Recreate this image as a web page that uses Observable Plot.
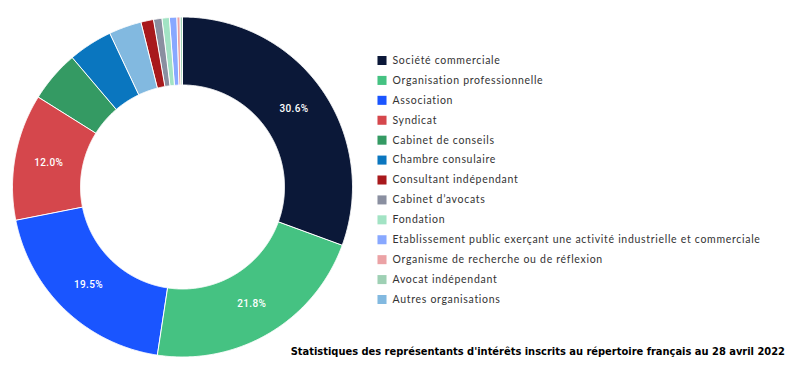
<!DOCTYPE html>
<html>
<head>
<meta charset="utf-8">
<script src="https://cdn.jsdelivr.net/npm/d3@7"></script>
<script src="https://cdn.jsdelivr.net/npm/@observablehq/plot@0.6"></script>
<style>
  body { margin: 0; background: #fff; }
  #wrap { position: relative; width: 800px; height: 378px; overflow: hidden; background: #fff; }
  #donut { position: absolute; left: 0; top: 0; }
  #legend { position: absolute; left: 370px; top: 45px; }
  #legend text { letter-spacing: 0.7px; }
  #donut text { letter-spacing: 0.4px; }
  #caption { position: absolute; right: 15px; top: 345px; line-height: 14px;
    font: bold 11px "DejaVu Sans Condensed", "DejaVu Sans", sans-serif; color: #000; white-space: nowrap; }
</style>
</head>
<body>
<div id="wrap">
  <div id="donut"></div>
  <div id="legend"></div>
  <div id="caption"></div>
</div>
<script>
const categories = [
  "Société commerciale",
  "Organisation professionnelle",
  "Association",
  "Syndicat",
  "Cabinet de conseils",
  "Chambre consulaire",
  "Consultant indépendant",
  "Cabinet d’avocats",
  "Fondation",
  "Etablissement public exerçant une activité industrielle et commerciale",
  "Organisme de recherche ou de réflexion",
  "Avocat indépendant",
  "Autres organisations"
];
const shares = [30.6, 21.8, 19.5, 12.0, 4.9, 4.2, 1.2, 0.8, 0.7, 0.7, 0.3, 0.2, 3.1];
const colors = ["#0b1838", "#45c282", "#1a55ff", "#d5474c", "#349a63", "#0a76bf", "#a8191c",
                "#8a8fa0", "#a2e3c4", "#88a8ff", "#eba2a5", "#9ed0b4", "#82b9e0"];
// clockwise drawing order of the slices, from 12 o'clock
const sliceOrder = [
  "Société commerciale", "Organisation professionnelle", "Association", "Syndicat",
  "Cabinet de conseils", "Chambre consulaire", "Autres organisations", "Consultant indépendant",
  "Cabinet d’avocats", "Fondation",
  "Etablissement public exerçant une activité industrielle et commerciale",
  "Organisme de recherche ou de réflexion", "Avocat indépendant"
];
const captionText = "Statistiques des représentants d'intérêts inscrits au répertoire français au 28 avril 2022";

const innerRatio = 0.6;
const total = d3.sum(shares);
const pts = [];
const labels = [];
let cum = 0;
for (const name of sliceOrder) {
  const v = shares[categories.indexOf(name)];
  const a0 = cum / total * 2 * Math.PI;
  const a1 = (cum + v) / total * 2 * Math.PI;
  cum += v;
  const n = Math.max(2, Math.ceil((a1 - a0) / 0.005));
  for (let i = 0; i <= n; i++) {
    const t = a0 + (a1 - a0) * i / n;
    pts.push({name, x: Math.sin(t), y: Math.cos(t)});
  }
  for (let i = n; i >= 0; i--) {
    const t = a0 + (a1 - a0) * i / n;
    pts.push({name, x: innerRatio * Math.sin(t), y: innerRatio * Math.cos(t)});
  }
  if (v >= 10) {
    const m = (a0 + a1) / 2, r = (1 + innerRatio) / 2;
    labels.push({x: r * Math.sin(m), y: r * Math.cos(m), text: v.toFixed(1) + "%"});
  }
}

const donut = Plot.plot({
  width: 370, height: 378, margin: 0,
  style: {fontFamily: "Roboto, sans-serif", background: "transparent"},
  x: {domain: [-1, 1], range: [12, 352], axis: null},
  y: {domain: [-1, 1], range: [356.5, 16.5], axis: null},
  color: {domain: categories, range: colors},
  marks: [
    Plot.line(pts, {x: "x", y: "y", z: "name", fill: "name", stroke: "white", strokeWidth: 1, curve: "linear-closed"}),
    Plot.text(labels, {x: "x", y: "y", text: "text", fill: "white", fontSize: 10, fontWeight: 500})
  ]
});
document.getElementById("donut").appendChild(donut);

const legendRows = categories.map((name, i) => ({name, row: i}));
const legend = Plot.plot({
  width: 420, height: 270, margin: 0,
  style: {fontFamily: "Lato, sans-serif", background: "transparent"},
  y: {domain: [0, categories.length - 1], range: [15, 254], axis: null},
  color: {domain: categories, range: colors},
  marks: [
    Plot.dot(legendRows, {frameAnchor: "left", dx: 11.5, y: "row", fill: "name", symbol: "square", r: 5.1, stroke: null}),
    Plot.text(legendRows, {frameAnchor: "left", dx: 22, y: "row", text: "name", textAnchor: "start", fill: "#333", fontSize: 10.5})
  ]
});
document.getElementById("legend").appendChild(legend);

document.getElementById("caption").textContent = captionText;
</script>
</body>
</html>
